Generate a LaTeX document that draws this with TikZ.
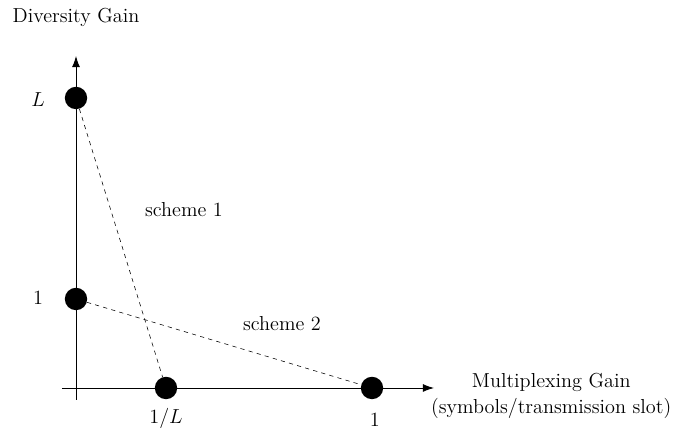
\documentclass[tikz,border=0pt]{standalone}
\usepackage{tikz}
\usetikzlibrary{arrows.meta, positioning}

\begin{document}
\begin{tikzpicture}[
    dot/.style={circle, fill=black, inner sep=0pt, minimum size=0.56cm},
    axis/.style={semithick, -{Latex[length=0.28cm, width=0.2cm]}},
    tradeoff/.style={dashed, thin},
    lbl/.style={font=\Large}
]
\useasboundingbox (-1.9,-1.1) rectangle (15.175,9.7);

\coordinate (ybot) at (0,-0.3);
\coordinate (ytop) at (0,8.3);
\coordinate (xleft) at (-0.35,0);
\coordinate (xright) at (8.95,0);

\draw[axis] (ybot) -- (ytop);
\draw[axis] (xleft) -- (xright);

\node[dot] (dl) at (0,7.25) {};
\node[dot] (d1) at (0,2.225) {};
\node[dot] (m1l) at (2.25,0) {};
\node[dot] (m1) at (7.4,0) {};

\draw[tradeoff] (dl) -- (m1l);
\draw[tradeoff] (d1) -- (m1);

\node[lbl] (ldiv) at (-0.95,7.2) {$L$};
\node[lbl] (onediv) at (-0.95,2.25) {1};
\node[lbl] (lmux) at (2.25,-0.77) {$1/L$};
\node[lbl] (onemux) at (7.47,-0.8) {1};

\node[lbl] (s1) at (2.7,4.45) {scheme 1};
\node[lbl] (s2) at (5.15,1.62) {scheme 2};

\node[lbl] (ylabel) at (0,9.27) {Diversity Gain};
\node[lbl, align=center] (xlabel) at (11.88,-0.2) {Multiplexing Gain\\(symbols/transmission slot)};
\end{tikzpicture}
\end{document}
